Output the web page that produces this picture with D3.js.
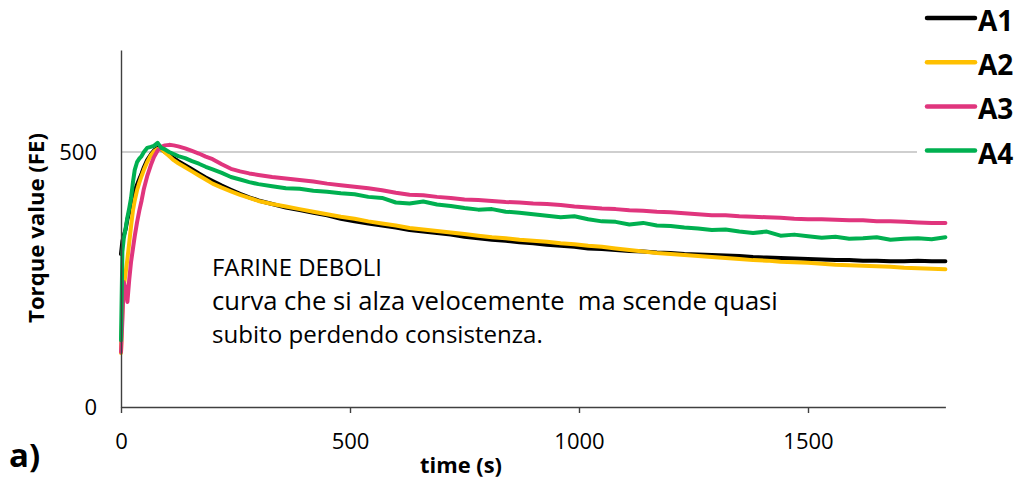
<!DOCTYPE html>
<html>
<head>
<meta charset="utf-8">
<script src="https://cdn.jsdelivr.net/npm/d3@7"></script>
<style>
  html, body { margin: 0; padding: 0; background: #fff; }
  svg { display: block; }
  text { font-family: "Open Sans", "DejaVu Sans", sans-serif; fill: #000; white-space: pre; }
</style>
</head>
<body>
<svg id="chart" width="1020" height="481"></svg>
<script>
// ---------- DATA ----------
const seriesNames = ["A1", "A2", "A3", "A4"];
const seriesColors = ["#000000", "#FFC000", "#E0357D", "#00B050"];

const time = [0, 3, 6, 10, 14, 18, 22, 26, 30, 35, 40, 45, 50, 57, 65, 72, 80, 88, 96, 105,
  115, 125, 140, 155, 170, 185, 200, 220, 240, 260, 280, 300,
  330, 360, 390, 420, 450, 480, 510, 540, 570, 600, 630, 660, 690, 720, 750, 780, 810, 840,
  870, 900, 930, 960, 990, 1020, 1050, 1080, 1110, 1140, 1170, 1200, 1230, 1260, 1290, 1320,
  1350, 1380, 1410, 1440, 1470, 1500, 1530, 1560, 1590, 1620, 1650, 1680, 1710, 1740, 1770, 1800];

const A1 = [300, 325, 336, 348, 368, 382, 396, 410, 424, 436, 447, 458, 470, 484, 495, 503, 508, 505, 500, 494,
  488, 482, 474, 466, 458, 450, 443, 434, 426, 418, 411, 405,
  398, 391, 386, 381, 376, 369, 364, 360, 356, 352, 347, 344, 341, 338, 334, 331, 328, 326,
  323, 321, 318, 316, 314, 311, 310, 308, 306, 305, 303, 302, 300, 299, 298, 297,
  296, 294, 293, 292, 291, 290, 289, 288, 288, 287, 287, 286, 286, 287, 286, 286];

const A2 = [106, 190, 235, 262, 290, 322, 355, 385, 405, 425, 440, 453, 465, 480, 493, 501, 506, 506, 499, 492,
  484, 478, 470, 462, 454, 446, 438, 430, 423, 416, 410, 404,
  398, 393, 388, 383, 378, 373, 369, 364, 360, 356, 351, 348, 345, 342, 339, 336, 333, 331,
  328, 326, 324, 321, 319, 316, 314, 311, 308, 305, 302, 300, 298, 296, 294, 292,
  290, 288, 287, 285, 284, 283, 281, 279, 278, 277, 276, 275, 273, 272, 271, 270];

const A3 = [108, 170, 245, 232, 206, 250, 285, 310, 335, 362, 385, 405, 428, 452, 474, 490, 503, 510, 513, 514,
  513, 511, 507, 502, 497, 491, 486, 476, 467, 462, 458, 455,
  451, 448, 445, 442, 438, 435, 432, 429, 425, 420, 416, 415, 412, 410, 407, 406, 404, 402,
  401, 399, 398, 396, 393, 391, 389, 388, 386, 385, 383, 382, 380, 378, 376, 376,
  374, 373, 372, 371, 369, 368, 368, 367, 366, 366, 364, 364, 363, 362, 361, 361];

const A4 = [131, 305, 330, 350, 372, 390, 410, 440, 465, 480, 487, 492, 500, 508, 510, 512, 518, 508, 505, 500,
  496, 492, 488, 482, 477, 471, 466, 459, 451, 446, 441, 437,
  433, 429, 428, 424, 422, 419, 417, 412, 410, 401, 399, 403, 397, 394, 390, 387, 388, 383,
  381, 378, 375, 372, 374, 368, 364, 363, 358, 361, 356, 355, 352, 350, 347, 348,
  344, 341, 344, 336, 338, 335, 332, 334, 330, 331, 333, 328, 330, 331, 329, 333];

const seriesValues = [A1, A2, A3, A4];

const xTicks = [0, 500, 1000, 1500];
const yTicks = [0, 500];
const xTitle = "time (s)";
const yTitle = "Torque value (FE)";
const panelLabel = "a)";
const noteLines = ["FARINE DEBOLI",
  "curva che si alza velocemente  ma scende quasi",
  "subito perdendo consistenza."];

// ---------- LAYOUT ----------
const svg = d3.select("#chart");
const x = d3.scaleLinear().domain([0, 1800]).range([121, 945.4]);
const y = d3.scaleLinear().domain([0, 700]).range([407, 50]);

function fitWidth(sel, target) {
  const node = sel.node();
  const fs = parseFloat(sel.attr("font-size"));
  const w = node.getComputedTextLength();
  if (w > 0) sel.attr("font-size", (fs * target / w).toFixed(2));
  return sel;
}

// gridline at 500
svg.append("g")
  .selectAll("line")
  .data(yTicks.filter(d => d !== 0))
  .join("line")
  .attr("x1", x(0)).attr("x2", x(1800))
  .attr("y1", d => y(d)).attr("y2", d => y(d))
  .attr("stroke", "#a0a0a0").attr("stroke-width", 1.2);

// series lines
const line = d3.line()
  .x((d, i) => x(time[i]))
  .y(d => y(d));

svg.append("g")
  .selectAll("path")
  .data(seriesValues)
  .join("path")
  .attr("d", d => line(d))
  .attr("fill", "none")
  .attr("stroke", (d, i) => seriesColors[i])
  .attr("stroke-width", 4)
  .attr("stroke-linejoin", "round")
  .attr("stroke-linecap", "round");

// x axis
const xAxis = svg.append("g")
  .attr("transform", `translate(0,${y(0)})`)
  .call(d3.axisBottom(x).tickValues(xTicks).tickSize(6).tickSizeOuter(0).tickPadding(20)
        .tickFormat(d3.format("d")));
xAxis.select(".domain").attr("stroke", "#404040").attr("stroke-width", 1.4);
xAxis.selectAll(".tick line").attr("stroke", "#404040").attr("stroke-width", 1.4);
xAxis.selectAll(".tick text")
  .attr("font-family", "Open Sans").attr("font-size", 22).attr("fill", "#000");

// y axis
const yAxis = svg.append("g")
  .attr("transform", `translate(${x(0)},0)`)
  .call(d3.axisLeft(y).tickValues(yTicks).tickSize(0).tickSizeOuter(0).tickPadding(24)
        .tickFormat(d3.format("d")));
yAxis.select(".domain").attr("stroke", "#404040").attr("stroke-width", 1.4);
yAxis.selectAll(".tick text")
  .attr("font-family", "Open Sans").attr("font-size", 22).attr("fill", "#000");

// axis titles
const xt = svg.append("text")
  .attr("x", 461).attr("y", 473)
  .attr("text-anchor", "middle")
  .attr("font-weight", "bold").attr("font-size", 22)
  .text(xTitle);
fitWidth(xt, 82);

const yt = svg.append("text")
  .attr("transform", "translate(44,228) rotate(-90)")
  .attr("text-anchor", "middle")
  .attr("font-weight", "bold").attr("font-size", 20)
  .text(yTitle);
fitWidth(yt, 190);

// panel label
svg.append("text")
  .attr("x", 9).attr("y", 467)
  .attr("font-weight", "bold").attr("font-size", 33)
  .text(panelLabel);

// annotation
const noteWidths = [170, 566, 331];
noteLines.forEach((t, i) => {
  const el = svg.append("text")
    .attr("x", 212).attr("y", 276 + i * 33.5)
    .attr("font-size", 24)
    .attr("xml:space", "preserve")
    .text(t);
  fitWidth(el, noteWidths[i]);
});

// legend
const lg = svg.append("g");
lg.append("rect")
  .attr("x", 917).attr("y", 0).attr("width", 103).attr("height", 172)
  .attr("fill", "#fff");
seriesNames.forEach((name, i) => {
  const cy = 18 + i * 44.2;
  lg.append("line")
    .attr("x1", 927).attr("x2", 975)
    .attr("y1", cy).attr("y2", cy)
    .attr("stroke", seriesColors[i]).attr("stroke-width", 4.5)
    .attr("stroke-linecap", "round");
  lg.append("text")
    .attr("x", 978).attr("y", 31 + i * 44.2)
    .attr("font-weight", "bold").attr("font-size", 28)
    .text(name);
});
</script>
</body>
</html>
